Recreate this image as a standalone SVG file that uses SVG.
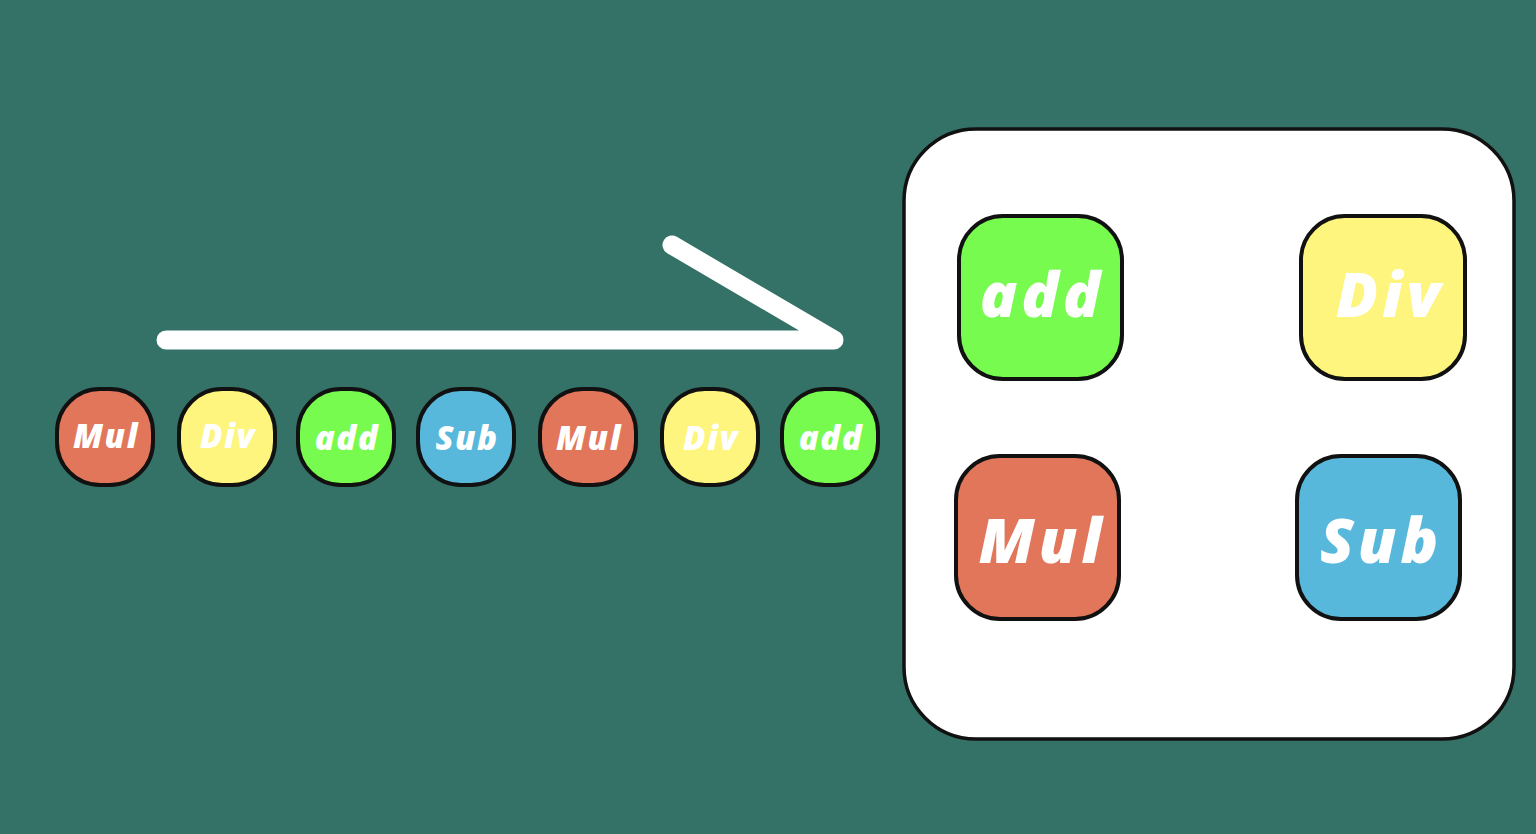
<svg xmlns="http://www.w3.org/2000/svg" width="1536" height="834" viewBox="0 0 1536 834">
<style>
.chip{stroke:#111;stroke-width:4}
.r{fill:#E2765A}.y{fill:#FEF57F}.g{fill:#77FB4F}.b{fill:#58B8DC}
.t{fill:#fff;font-family:"Open Sans","DejaVu Sans",sans-serif;font-weight:800;font-style:italic;text-anchor:middle}
.s{font-size:33px;letter-spacing:1.5px}.L{font-size:62px;letter-spacing:4px}
</style>
<rect width="1536" height="834" fill="#347166"/>
<g id="connectors">
<path d="M166 340 H834 L672 245" fill="none" stroke="#fff" stroke-width="19" stroke-linecap="round" stroke-linejoin="round"/>
</g>
<g id="queue">
<g id="q1"><rect class="chip r" x="57" y="389" width="96" height="96" rx="43"/><text class="t s" x="106" y="448">Mul</text></g>
<g id="q2"><rect class="chip y" x="179" y="389" width="96" height="96" rx="43"/><text class="t s" x="228" y="448">Div</text></g>
<g id="q3"><rect class="chip g" x="298" y="389" width="96" height="96" rx="43"/><text class="t s" x="347" y="450">add</text></g>
<g id="q4"><rect class="chip b" x="418" y="389" width="96" height="96" rx="43"/><text class="t s" x="467" y="450">Sub</text></g>
<g id="q5"><rect class="chip r" x="540" y="389" width="96" height="96" rx="43"/><text class="t s" x="589" y="450">Mul</text></g>
<g id="q6"><rect class="chip y" x="662" y="389" width="96" height="96" rx="43"/><text class="t s" x="711" y="450">Div</text></g>
<g id="q7"><rect class="chip g" x="782" y="389" width="96" height="96" rx="43"/><text class="t s" x="831" y="450">add</text></g>
</g>
<g id="box">
<rect x="904" y="129" width="610" height="610" rx="72" fill="#fff" stroke="#111" stroke-width="3.5"/>
</g>
<g id="b-add"><rect class="chip g" x="959" y="216" width="163" height="163" rx="44"/><text class="t L" x="1042" y="317">add</text></g>
<g id="b-div"><rect class="chip y" x="1301" y="216" width="164" height="163" rx="44"/><text class="t L" x="1390" y="317">Div</text></g>
<g id="b-mul"><rect class="chip r" x="956" y="456" width="163" height="163" rx="44"/><text class="t L" x="1042" y="563">Mul</text></g>
<g id="b-sub"><rect class="chip b" x="1297" y="456" width="163" height="163" rx="44"/><text class="t L" x="1381" y="563">Sub</text></g>
</svg>
